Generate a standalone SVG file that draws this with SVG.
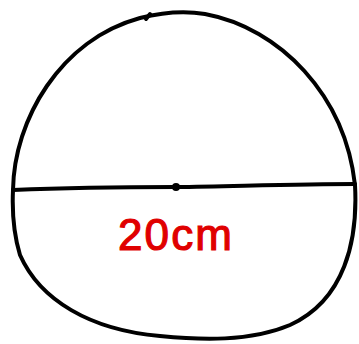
<svg xmlns="http://www.w3.org/2000/svg" width="359" height="344" viewBox="0 0 359 344">
<style>
.ink{fill:none;stroke:#000;stroke-width:4;stroke-linecap:round;stroke-linejoin:round}
.lbl{font-family:"Liberation Sans",Arial,sans-serif;font-size:44px;fill:#e00000;stroke:#e00000;stroke-width:1.2}
</style>
<rect width="359" height="344" fill="#fff"/>
<g id="circle">
<path class="ink" d="M13,190 C14,120 60,40 140,18 C160,13 180,10 205,14 C280,28 345,95 355,185 C358,240 345,300 290,325 C250,342 200,340 160,336 C90,330 40,300 20,255 C14,235 12,212 13,190 Z"/>
<path class="ink" d="M146,19 L150,14"/>
</g>
<g id="connectors">
<path class="ink" d="M13,190 C60,188 120,187 176,187 C240,186 300,184 355,184"/>
<circle cx="176" cy="187" r="4" fill="#000"/>
</g>
<g id="label">
<text class="lbl" x="118" y="250" textLength="114">20cm</text>
</g>
</svg>
